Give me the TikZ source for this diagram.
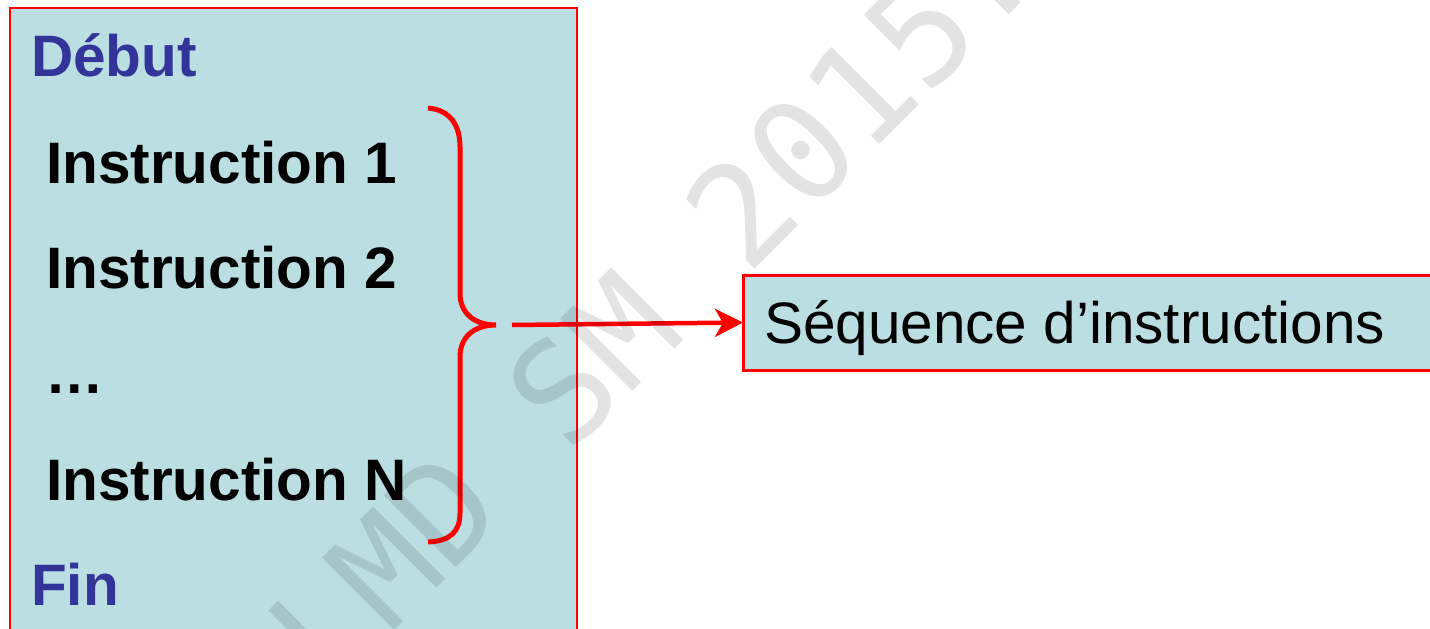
\documentclass[tikz,border=0pt]{standalone}
\usepackage{fontspec}
\setmainfont{Liberation Sans}
\newfontfamily\wmfont{DejaVu Sans Mono}
\usetikzlibrary{arrows.meta}
\definecolor{boxblue}{HTML}{BBDEE3}
\definecolor{titleblue}{HTML}{333399}
\definecolor{redline}{HTML}{FF0000}
\begin{document}
\begin{tikzpicture}[x=1pt,y=-1pt,
  every node/.style={inner sep=0pt, outer sep=0pt},
  keyword/.style={anchor=base west, font=\fontsize{58.5}{70}\selectfont\bfseries, text=titleblue},
  instr/.style={anchor=base west, font=\fontsize{58.5}{70}\selectfont\bfseries, text=black},
  plain/.style={anchor=base west, font=\fontsize{58.5}{70}\selectfont, text=black},
  mainbox/.style={draw=redline, line width=2pt, fill=boxblue, anchor=north west},
  seqbox/.style={draw=redline, line width=3pt, fill=boxblue, anchor=north west},
  bracepath/.style={draw=redline, line width=5pt},
  seqarrow/.style={draw=redline, line width=4.5pt, -{Stealth[length=28pt, width=28pt, inset=8pt]}},
  watermark/.style={font=\wmfont\fontsize{140}{150}\selectfont, text=black, text opacity=0.11}
]
\useasboundingbox (0,0) rectangle (1430,629);
\clip (0,0) rectangle (1430,629);
% main box
\node[mainbox, minimum width=567pt, minimum height=640pt] (main) at (10,8) {};
% texts
\node[keyword] (debut) at (31,76) {Début};
\node[instr] (i1) at (46,183) {Instruction 1};
\node[instr] (i2) at (46,288) {Instruction 2};
\node[instr] (dots) at (45,393) {…};
\node[instr] (iN) at (46,500) {Instruction N};
\node[keyword] (fin) at (31,605) {Fin};
% brace
\draw[bracepath] (428,108) .. controls (450,110) and (460,125) .. (460,147)
  -- (460,293) .. controls (460,313) and (474,325) .. (496,325)
  .. controls (474,325) and (460,337) .. (460,357)
  -- (460,513) .. controls (460,532) and (450,541) .. (428,542);
\coordinate (bracetip) at (512,325);
% sequence box
\node[seqbox, minimum width=720pt, minimum height=95pt] (seq) at (743,275) {};
\node[plain] (seqtext) at (764,343) {Séquence d’instructions};
\draw[seqarrow] (bracetip) -- (seq.west);
% watermark
\node[watermark, rotate=45] (wm) at (652,300) {LMD SM 2015.};
\end{tikzpicture}
\end{document}
